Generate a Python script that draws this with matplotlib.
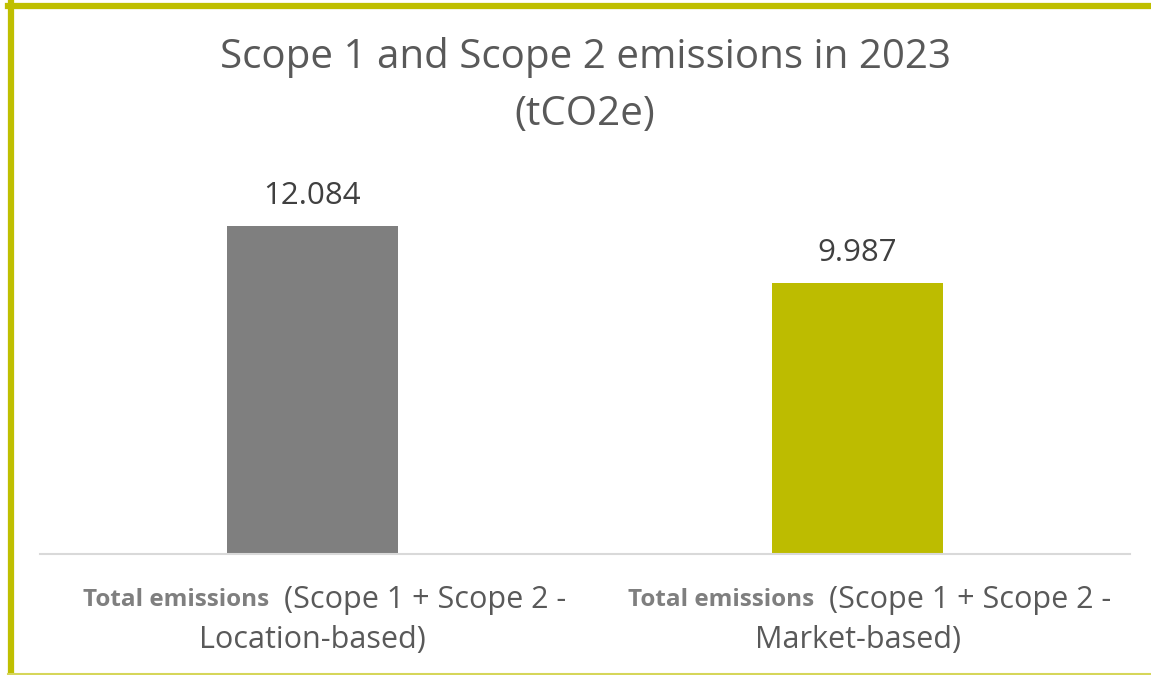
import matplotlib
matplotlib.use('Agg')
import matplotlib.pyplot as plt
from matplotlib.lines import Line2D

# Datos del grafico
categorias = ['Location-based', 'Market-based']
valores = [12084, 9987]
etiquetas_valor = ['12.084', '9.987']
colores = ['#7F7F7F', '#BDBC00']
titulo_1 = 'Scope 1 and Scope 2 emissions in 2023'
titulo_2 = '(tCO2e)'

plt.rcParams['font.family'] = ['Open Sans', 'DejaVu Sans']

W, H = 1151, 675
fig = plt.figure(figsize=(W / 100, H / 100), dpi=100)

# Ejes: base en y=554 px, de x=40 a x=1130
ax_top = 160
ax = fig.add_axes([40 / W, 1 - 554 / H, 1090 / W, (554 - ax_top) / H])
ymax = valores[0] * (554 - ax_top) / (554 - 226)
x = list(range(len(valores)))
bars = ax.bar(x, valores, width=0.3125, color=colores)
ax.set_xlim(-0.5, 1.5)
ax.set_ylim(0, ymax)
for s in ['top', 'right', 'left']:
    ax.spines[s].set_visible(False)
ax.spines['bottom'].set_color('#D9D9D9')
ax.spines['bottom'].set_linewidth(1.5)
ax.set_yticks([])
ax.set_xticks([])

# Etiquetas de valor
for b, lab in zip(bars, etiquetas_valor):
    ax.annotate(lab, (b.get_x() + b.get_width() / 2, b.get_height()),
                xytext=(0, 11), textcoords='offset points', ha='center', va='bottom',
                fontsize=22.5, color='#404040')

# Titulo
fig.text(585 / W, 1 - 58 / H, titulo_1, ha='center', va='center', fontsize=29, color='#595959')
fig.text(585 / W, 1 - 115 / H, titulo_2, ha='center', va='center', fontsize=29, color='#595959')

# Etiquetas de categoria (parte en negrita + parte normal)
fig.canvas.draw()
r = fig.canvas.get_renderer()
for xi, cat in zip(x, categorias):
    cx = ax.transData.transform((xi, 0))[0] + 12
    y1 = 600
    t1 = fig.text(0, 1 - y1 / H, 'Total emissions', fontsize=17.5, fontweight='bold',
                  color='#7F7F7F', va='center')
    t2 = fig.text(0, 1 - y1 / H, '(Scope 1 + Scope 2 -', fontsize=22,
                  color='#595959', va='center')
    w1 = t1.get_window_extent(r).width
    w2 = t2.get_window_extent(r).width
    gap = 15
    start = cx - (w1 + gap + w2) / 2
    t1.set_x(start / W)
    t2.set_x((start + w1 + gap) / W)
    fig.text((cx - 12) / W, 1 - 640 / H, cat + ')', fontsize=22, color='#595959',
             ha='center', va='center')

# Borde del grafico
olive = '#BFBF00'
fig.add_artist(Line2D([8 / W, 1], [1 - 5.5 / H, 1 - 5.5 / H], color=olive, lw=4.5,
                      transform=fig.transFigure))
fig.add_artist(Line2D([10.5 / W, 10.5 / W], [0, 1 - 3 / H], color=olive, lw=4.5,
                      transform=fig.transFigure))
fig.add_artist(Line2D([8 / W, 1], [1.5 / H, 1.5 / H], color='#D6D65A', lw=1.5,
                      transform=fig.transFigure))

fig.savefig('out.png', dpi=100)
